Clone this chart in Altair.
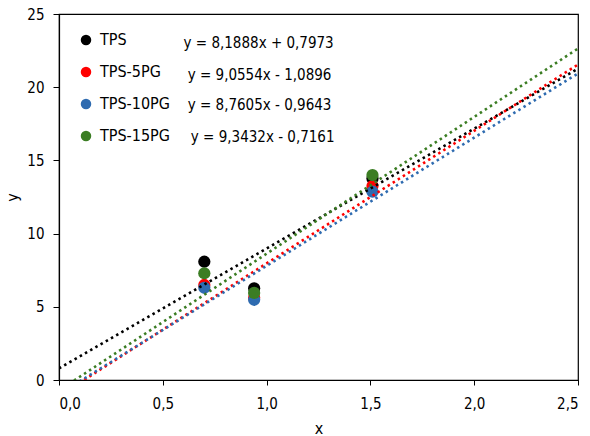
import altair as alt
import pandas as pd

series = ["TPS", "TPS-5PG", "TPS-10PG", "TPS-15PG"]
colors = ["#000000", "#FF0000", "#2E6BB0", "#3B7D23"]
x_vals = [0.70, 0.94, 1.51]
y_tps = [8.08, 6.26, 13.77]
y_5pg = [6.49, 5.62, 13.25]
y_10pg = [6.30, 5.48, 12.86]
y_15pg = [7.29, 5.95, 14.00]
slopes = [8.1888, 9.0554, 8.7605, 9.3432]
intercepts = [0.7973, -1.0896, -0.9643, -0.7161]
equations = ["y = 8,1888x + 0,7973", "y = 9,0554x - 1,0896",
             "y = 8,7605x - 0,9643", "y = 9,3432x - 0,7161"]
eq_x = [0.60, 0.62, 0.62, 0.635]
eq_y = [23.0, 20.8, 18.8, 16.6]
x_range = [0.0, 2.5]

FONT = "Liberation Sans Narrow, DejaVu Sans Condensed, Arial, sans-serif"

rows = []
for s, ys in zip(series, [y_tps, y_5pg, y_10pg, y_15pg]):
    for xv, yv in zip(x_vals, ys):
        rows.append({"series": s, "x": xv, "y": yv})
pts = pd.DataFrame(rows)
pts["order"] = pts["series"].map({s: i for i, s in enumerate(series)})

fits = pd.DataFrame({"series": series, "slope": slopes, "intercept": intercepts,
                     "x0": x_range[0], "x1": x_range[1]})
eqs = pd.DataFrame({"series": series, "label": equations, "x": eq_x, "y": eq_y})

xscale = alt.Scale(domain=[0, 2.5], nice=False, zero=False)
yscale = alt.Scale(domain=[0, 25], nice=False)
cscale = alt.Scale(domain=series, range=colors)

xaxis = alt.Axis(title="x", values=[0, 0.5, 1.0, 1.5, 2.0, 2.5],
                 labelExpr="replace(format(datum.value, '.1f'), '.', ',')",
                 grid=False, tickSize=5, labelPadding=11, titlePadding=9)
yaxis = alt.Axis(title="y", values=[0, 5, 10, 15, 20, 25], grid=False,
                 tickSize=6, labelPadding=9, titlePadding=6)

points = alt.Chart(pts).mark_circle(size=150, opacity=1).encode(
    x=alt.X("x:Q", scale=xscale, axis=xaxis),
    y=alt.Y("y:Q", scale=yscale, axis=yaxis),
    color=alt.Color("series:N", scale=cscale, sort=series,
                    legend=alt.Legend(title=None, orient="none", legendX=19, legendY=18,
                                      symbolType="circle", symbolSize=110,
                                      symbolStrokeWidth=0, labelFontSize=16,
                                      labelFont=FONT, rowPadding=16, labelOffset=6,
                                      padding=0)),
    order=alt.Order("order:Q"),
)

lines = alt.Chart(fits).transform_calculate(
    y0="datum.slope * datum.x0 + datum.intercept",
    y1="datum.slope * datum.x1 + datum.intercept",
).mark_rule(strokeDash=[2.5, 3.5], strokeWidth=2.6, clip=True).encode(
    x=alt.X("x0:Q", scale=xscale),
    x2="x1:Q",
    y=alt.Y("y0:Q", scale=yscale),
    y2="y1:Q",
    color=alt.Color("series:N", scale=cscale, legend=None),
)

texts = alt.Chart(eqs).mark_text(align="left", baseline="middle", fontSize=15,
                                 font=FONT, color="#000000").encode(
    x=alt.X("x:Q", scale=xscale),
    y=alt.Y("y:Q", scale=yscale),
    text="label:N",
)

chart = alt.layer(points, lines, texts).properties(
    width=519, height=366,
    background="white",
    autosize=alt.AutoSizeParams(type="none"),
    padding={"left": 59, "top": 14, "right": 12, "bottom": 56},
).configure_view(stroke="#000000", strokeWidth=1.2).configure_axis(
    domainColor="#000000", tickColor="#000000", labelColor="#000000",
    titleColor="#000000", labelFont=FONT, titleFont=FONT, labelFontSize=15,
    titleFontSize=16, titleFontWeight="normal", domainWidth=1.2,
)

chart.save("out.html", embed_options={"renderer": "svg", "actions": False})
